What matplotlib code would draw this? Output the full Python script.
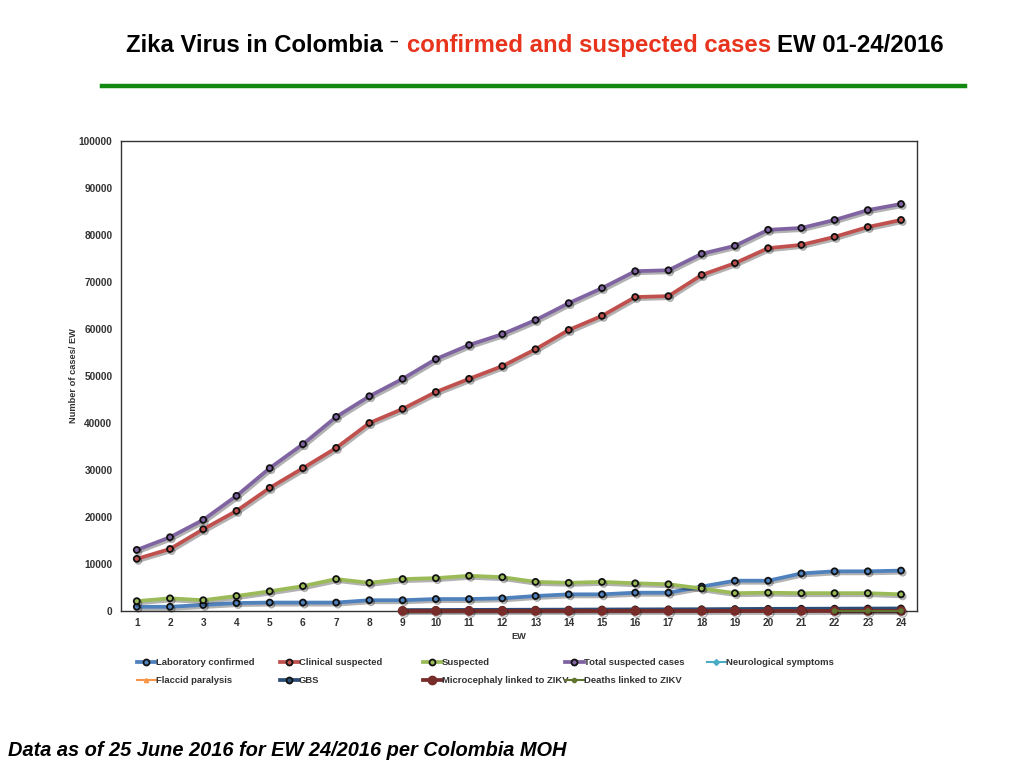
import numpy as np
import matplotlib
matplotlib.use("Agg")
import matplotlib.pyplot as plt
import matplotlib.patheffects as pe
from matplotlib.lines import Line2D

ew = list(range(1, 25))

lab_confirmed = [900, 900, 1300, 1700, 1800, 1800, 1800, 2300, 2300, 2550, 2550, 2700,
                 3200, 3550, 3550, 3900, 3900, 5200, 6450, 6450, 8000, 8450, 8450, 8600]
clinical_suspected = [11100, 13200, 17400, 21300, 26200, 30400, 34700, 40000, 43000, 46600,
                      49400, 52100, 55700, 59800, 62800, 66800, 67000, 71500, 74000, 77200,
                      77900, 79600, 81700, 83200]
suspected = [2100, 2700, 2300, 3200, 4200, 5300, 6800, 6000, 6800, 7000, 7500, 7200,
             6200, 6000, 6200, 5900, 5700, 4800, 3800, 3900, 3800, 3800, 3800, 3550]
total_suspected = [13000, 15700, 19400, 24500, 30400, 35500, 41300, 45700, 49400, 53600,
                   56600, 58900, 61900, 65500, 68700, 72300, 72500, 76000, 77700, 81100,
                   81500, 83200, 85300, 86600]
neuro_symptoms = [np.nan] * 24
flaccid_paralysis = [np.nan] * 24
gbs = [np.nan] * 8 + [200, 220, 240, 260, 280, 300, 320, 340, 360, 380, 420, 460,
                      480, 500, 520, 540]
microcephaly = [np.nan] * 8 + [10, 10, 10, 10, 10, 10, 10, 10, 10, 10, 12, 14,
                               16, 18, 20, 22]
deaths = [np.nan] * 21 + [5, 5, 5]

series = [
    ("Laboratory confirmed", lab_confirmed, "#4f81bd", "o", "ring"),
    ("Clinical suspected", clinical_suspected, "#c0504d", "o", "ring"),
    ("Suspected", suspected, "#9bbb59", "o", "ring"),
    ("Total suspected cases", total_suspected, "#8064a2", "o", "ring"),
    ("Neurological symptoms", neuro_symptoms, "#4bacc6", "D", "small"),
    ("Flaccid paralysis", flaccid_paralysis, "#f79646", "^", "small"),
    ("GBS", gbs, "#2c4d75", "o", "ring"),
    ("Microcephaly linked to ZIKV", microcephaly, "#772c2a", "o", "fill"),
    ("Deaths linked to ZIKV", deaths, "#5f7530", "o", "small"),
]

fig = plt.figure(figsize=(10.24, 7.68), dpi=100)
plt.rcParams["font.family"] = ["Liberation Sans", "DejaVu Sans"]

ax = fig.add_axes([0.118, 0.2044, 0.7775, 0.612])

shadow = [pe.SimpleLineShadow(offset=(1.2, -1.5), shadow_color="k", alpha=0.3),
          pe.Normal()]

handles = []
for name, vals, color, mk, style in series:
    if style == "ring":
        kw = dict(marker="o", markersize=4.3, markerfacecolor=color,
                  markeredgecolor="#111111", markeredgewidth=1.3)
        lw = 2.7
    elif style == "fill":
        kw = dict(marker="o", markersize=6, markerfacecolor=color,
                  markeredgecolor=color)
        lw = 2.7
    else:
        kw = dict(marker=mk, markersize=3, markerfacecolor=color,
                  markeredgecolor=color)
        lw = 1.5
    ax.plot(ew, vals, color=color, linewidth=lw, label=name,
            path_effects=shadow, zorder=3, clip_on=False, **kw)
    handles.append(Line2D([0], [0], color=color, linewidth=lw, **kw))

ax.set_xlim(0.52, 24.48)
ax.set_ylim(0, 100000)
ax.set_xticks(ew)
ax.set_yticks(range(0, 100001, 10000))
ax.tick_params(length=0, labelsize=7.3, labelcolor="#333333")
ax.tick_params(axis="y", pad=6)
ax.tick_params(axis="x", pad=5)
for lab in ax.get_xticklabels() + ax.get_yticklabels():
    lab.set_fontweight("bold")
for s in ax.spines.values():
    s.set_color("#333333")
    s.set_linewidth(1)

ax.set_xlabel("EW", fontsize=6.7, color="#333333", fontweight="bold", labelpad=3)
fig.text(0.0713, 0.511, "Number of cases/ EW", rotation=90, fontsize=6.7,
         color="#333333", fontweight="bold", ha="center", va="center")

# legend: 5 columns, row-major
col_x = [137, 280, 423, 565, 707]
names = [s[0] for s in series]
cols = [[0, 5], [1, 6], [2, 7], [3, 8], [4]]
for cx, idx in zip(col_x, cols):
    leg = fig.legend([handles[i] for i in idx], [names[i] for i in idx],
                     loc="upper left", bbox_to_anchor=(cx / 1024, 1 - 658 / 768),
                     frameon=False, fontsize=6.8, handlelength=2.0,
                     handletextpad=0.0, labelspacing=1.0, borderpad=0,
                     borderaxespad=0)
    for t in leg.get_texts():
        t.set_color("#333333")
        t.set_fontweight("bold")

# title
tfam = ["Liberation Sans Narrow", "Liberation Sans", "DejaVu Sans"]
ty = 1 - 52 / 768
fig.text(126 / 1024, ty, "Zika Virus in Colombia", fontsize=17.2, fontweight="bold",
         family=tfam, color="black", va="baseline")
fig.text(389 / 1024, 1 - 46 / 768, "–", fontsize=11, fontweight="bold",
         family=tfam, color="black", va="baseline")
fig.text(407 / 1024, ty, "confirmed and suspected cases", fontsize=17.3,
         fontweight="bold", family=tfam, color="#e8341c", va="baseline")
fig.text(777 / 1024, ty, "EW 01-24/2016", fontsize=17.3, fontweight="bold",
         family=tfam, color="black", va="baseline")

fig.add_artist(Line2D([102 / 1024, 965 / 1024], [1 - 86 / 768, 1 - 86 / 768],
                      color="#128a12", linewidth=3.2))

fig.text(8 / 1024, 1 - 756 / 768, "Data as of 25 June 2016 for EW 24/2016 per Colombia MOH",
         fontsize=14.4, fontweight="bold", fontstyle="italic", color="black",
         va="baseline")

fig.savefig("out.png", dpi=100)
